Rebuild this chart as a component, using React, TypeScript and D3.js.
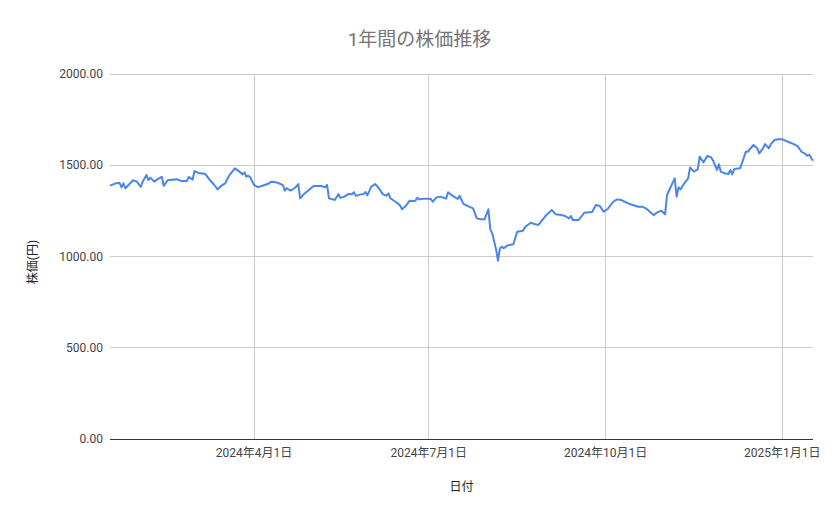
import React, { useEffect, useRef } from 'react';
import * as d3 from 'd3';

const title = '1年間の株価推移';
const xTitle = '日付';
const yTitle = '株価(円)';

const dates = [
  '2024-01-17', '2024-01-20', '2024-01-22', '2024-01-23', '2024-01-24', '2024-01-25', '2024-01-27', '2024-01-29', '2024-01-31',
  '2024-02-02', '2024-02-03', '2024-02-05', '2024-02-06', '2024-02-07', '2024-02-09', '2024-02-11', '2024-02-13', '2024-02-14',
  '2024-02-16', '2024-02-21', '2024-02-23', '2024-02-26', '2024-02-27', '2024-02-29',
  '2024-03-01', '2024-03-03', '2024-03-06', '2024-03-07', '2024-03-09', '2024-03-11', '2024-03-13', '2024-03-15', '2024-03-17',
  '2024-03-19', '2024-03-22', '2024-03-24', '2024-03-26', '2024-03-27', '2024-03-28', '2024-03-29', '2024-03-30',
  '2024-04-01', '2024-04-03', '2024-04-05', '2024-04-08', '2024-04-10', '2024-04-13', '2024-04-16', '2024-04-17', '2024-04-18',
  '2024-04-20', '2024-04-22', '2024-04-23', '2024-04-24', '2024-04-25', '2024-04-27', '2024-04-30',
  '2024-05-02', '2024-05-06', '2024-05-08', '2024-05-09', '2024-05-10', '2024-05-12', '2024-05-13', '2024-05-15', '2024-05-16',
  '2024-05-18', '2024-05-20', '2024-05-22', '2024-05-23', '2024-05-24', '2024-05-26', '2024-05-28', '2024-05-29', '2024-05-30',
  '2024-06-01', '2024-06-03', '2024-06-05', '2024-06-07', '2024-06-09', '2024-06-10', '2024-06-11', '2024-06-14', '2024-06-16',
  '2024-06-17', '2024-06-19', '2024-06-21', '2024-06-23', '2024-06-24', '2024-06-25', '2024-06-26', '2024-06-28',
  '2024-07-01', '2024-07-02', '2024-07-03', '2024-07-05', '2024-07-07', '2024-07-10', '2024-07-11', '2024-07-13', '2024-07-16',
  '2024-07-17', '2024-07-19', '2024-07-21', '2024-07-24', '2024-07-26', '2024-07-28', '2024-07-30',
  '2024-08-01', '2024-08-02', '2024-08-03', '2024-08-05', '2024-08-06', '2024-08-07', '2024-08-08', '2024-08-09', '2024-08-11',
  '2024-08-14', '2024-08-16', '2024-08-19', '2024-08-20', '2024-08-23', '2024-08-25', '2024-08-27', '2024-08-28', '2024-08-31',
  '2024-09-03', '2024-09-05', '2024-09-08', '2024-09-10', '2024-09-12', '2024-09-13', '2024-09-14', '2024-09-17', '2024-09-20',
  '2024-09-24', '2024-09-26', '2024-09-28', '2024-09-30',
  '2024-10-02', '2024-10-05', '2024-10-07', '2024-10-09', '2024-10-11', '2024-10-14', '2024-10-18', '2024-10-20', '2024-10-22',
  '2024-10-26', '2024-10-28', '2024-10-30',
  '2024-11-01', '2024-11-02', '2024-11-04', '2024-11-06', '2024-11-07', '2024-11-08', '2024-11-09', '2024-11-11', '2024-11-13',
  '2024-11-14', '2024-11-16', '2024-11-18', '2024-11-19', '2024-11-21', '2024-11-23', '2024-11-25', '2024-11-26', '2024-11-28',
  '2024-11-29', '2024-11-30',
  '2024-12-02', '2024-12-04', '2024-12-05', '2024-12-06', '2024-12-07', '2024-12-10', '2024-12-11', '2024-12-13', '2024-12-14',
  '2024-12-17', '2024-12-19', '2024-12-20', '2024-12-22', '2024-12-23', '2024-12-25', '2024-12-26', '2024-12-28', '2024-12-30',
  '2025-01-01', '2025-01-04', '2025-01-07', '2025-01-09', '2025-01-11', '2025-01-13', '2025-01-14', '2025-01-15', '2025-01-16',
  '2025-01-17',
];

const prices = [
  1388, 1401, 1403, 1379, 1401, 1374, 1396, 1418, 1410,
  1381, 1410, 1447, 1419, 1432, 1410, 1425, 1436, 1386,
  1418, 1423, 1414, 1414, 1436, 1421,
  1468, 1458, 1454, 1447, 1419, 1396, 1368, 1388, 1401,
  1443, 1483, 1468, 1450, 1461, 1437, 1443, 1434,
  1392, 1380, 1386, 1397, 1410, 1405, 1392, 1361, 1374,
  1361, 1374, 1383, 1397, 1319, 1342, 1368,
  1386, 1386, 1379, 1393, 1319, 1313, 1310, 1342, 1321,
  1328, 1342, 1341, 1353, 1332, 1339, 1342, 1353, 1335,
  1383, 1397, 1374, 1342, 1333, 1346, 1319, 1297, 1280,
  1259, 1277, 1306, 1304, 1306, 1322, 1313, 1317,
  1317, 1315, 1300, 1324, 1328, 1317, 1352, 1335, 1315,
  1333, 1288, 1277, 1264, 1209, 1204, 1204,
  1259, 1149, 1127, 1039, 977, 1045, 1054, 1045, 1061,
  1067, 1136, 1141, 1160, 1185, 1178, 1173, 1185, 1225,
  1255, 1231, 1227, 1222, 1209, 1222, 1200, 1200, 1240,
  1244, 1282, 1277, 1246,
  1259, 1300, 1313, 1310, 1300, 1286, 1273, 1273, 1264,
  1227, 1242, 1251,
  1231, 1337, 1383, 1428, 1328, 1379, 1368, 1401, 1428,
  1488, 1465, 1477, 1547, 1516, 1551, 1543, 1525, 1474,
  1505, 1465,
  1456, 1452, 1474, 1450, 1479, 1483, 1511, 1574, 1574,
  1611, 1593, 1565, 1593, 1616, 1593, 1616, 1638, 1642,
  1642, 1629, 1616, 1605, 1574, 1562, 1552, 1559, 1540,
  1525,
];

const yTicks = [0, 500, 1000, 1500, 2000];
const xTicks = ['2024-04-01', '2024-07-01', '2024-10-01', '2025-01-01'];

const FONT = "Roboto, 'Noto Sans CJK JP', sans-serif";

function PriceChart() {
  const svgRef = useRef<SVGSVGElement>(null);

  const width = 839;
  const height = 519;
  const margin = { top: 74, right: 26, bottom: 80, left: 110 };

  useEffect(() => {
    if (!svgRef.current) return;
    const svg = d3.select(svgRef.current);
    svg.selectAll('*').remove();

    const parse = d3.timeParse('%Y-%m-%d');
    const data = dates.map((d, i) => ({ date: parse(d) as Date, value: prices[i] }));

    const x = d3.scaleTime()
      .domain(d3.extent(data, d => d.date) as [Date, Date])
      .range([margin.left, width - margin.right]);
    const y = d3.scaleLinear().domain([0, 2000]).range([height - margin.bottom, margin.top]);

    svg.append('rect').attr('width', width).attr('height', height).attr('fill', '#fff');

    // title
    svg.append('text')
      .attr('x', width / 2).attr('y', 46)
      .attr('text-anchor', 'middle')
      .attr('font-family', FONT).attr('font-size', 19)
      .attr('fill', '#757575')
      .text(title);

    // horizontal grid + y labels
    yTicks.forEach(t => {
      svg.append('line')
        .attr('x1', margin.left).attr('x2', width - margin.right)
        .attr('y1', y(t)).attr('y2', y(t))
        .attr('stroke', '#cccccc').attr('stroke-width', 1)
        .attr('shape-rendering', 'crispEdges');
      svg.append('text')
        .attr('x', margin.left - 7).attr('y', y(t) + 4)
        .attr('text-anchor', 'end')
        .attr('font-family', FONT).attr('font-size', 12)
        .attr('fill', '#444')
        .text(d3.format('.2f')(t));
    });

    // vertical grid + x labels
    xTicks.forEach(s => {
      const dt = parse(s) as Date;
      svg.append('line')
        .attr('x1', x(dt)).attr('x2', x(dt))
        .attr('y1', margin.top).attr('y2', height - margin.bottom)
        .attr('stroke', '#cccccc').attr('stroke-width', 1)
        .attr('shape-rendering', 'crispEdges');
      svg.append('text')
        .attr('x', x(dt)).attr('y', height - margin.bottom + 18)
        .attr('text-anchor', 'middle')
        .attr('font-family', FONT).attr('font-size', 12)
        .attr('fill', '#444')
        .text(`${dt.getFullYear()}年${dt.getMonth() + 1}月${dt.getDate()}日`);
    });

    // baseline
    svg.append('line')
      .attr('x1', margin.left).attr('x2', width - margin.right)
      .attr('y1', y(0)).attr('y2', y(0))
      .attr('stroke', '#333').attr('stroke-width', 1)
      .attr('shape-rendering', 'crispEdges');

    // axis titles
    svg.append('text')
      .attr('x', (margin.left + width - margin.right) / 2).attr('y', 491)
      .attr('text-anchor', 'middle')
      .attr('font-family', FONT).attr('font-size', 12)
      .attr('fill', '#222')
      .text(xTitle);
    svg.append('text')
      .attr('transform', `translate(37,262) rotate(-90)`)
      .attr('text-anchor', 'middle')
      .attr('font-family', FONT).attr('font-size', 12)
      .attr('fill', '#222')
      .text(yTitle);

    // price line
    const line = d3.line<{ date: Date; value: number }>()
      .x(d => x(d.date))
      .y(d => y(d.value));

    svg.append('path')
      .datum(data)
      .attr('fill', 'none')
      .attr('stroke', '#4a86e8')
      .attr('stroke-width', 2)
      .attr('stroke-linejoin', 'round')
      .attr('d', line);
  }, []);

  return <svg ref={svgRef} width={width} height={height} style={{ display: 'block' }} />;
}

export default function App() {
  return (
    <div style={{ position: 'absolute', left: 0, top: 0 }}>
      <PriceChart />
    </div>
  );
}
